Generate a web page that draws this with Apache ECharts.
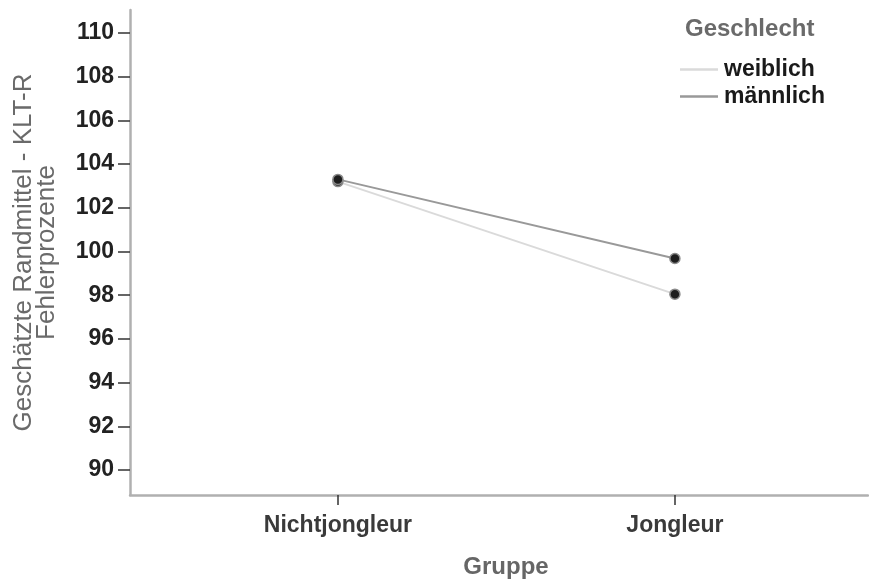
<!DOCTYPE html>
<html>
<head>
<meta charset="utf-8">
<script src="https://cdn.jsdelivr.net/npm/echarts@6/dist/echarts.min.js"></script>
<style>
  html, body { margin: 0; padding: 0; background: #fff; }
  #chart { width: 869px; height: 580px; }
</style>
</head>
<body>
<div id="chart"></div>
<script>
// Estimated marginal means of KLT-R error percentages by group and sex
const groups = ['Nichtjongleur', 'Jongleur'];
const weiblich = [103.2, 98.05];
const maennlich = [103.3, 99.68];
const yTicks = [90, 92, 94, 96, 98, 100, 102, 104, 106, 108, 110];

const FONT = 'Liberation Sans, Arial, sans-serif';

const toPoints = vals => vals.map((v, i) => [i, v]);

const chart = echarts.init(document.getElementById('chart'), null, { renderer: 'canvas' });

const markerStyle = { color: '#1e1e1e', borderColor: '#8a8a8a', borderWidth: 1.5 };

chart.setOption({
  animation: false,
  backgroundColor: '#ffffff',
  textStyle: { fontFamily: FONT },
  grid: { left: 130, top: 10, right: 1, bottom: 85, containLabel: false, outerBoundsMode: 'none' },
  xAxis: {
    type: 'value',
    min: -0.617,
    max: 1.573,
    name: 'Gruppe',
    nameLocation: 'middle',
    nameGap: 60,
    nameTextStyle: { color: '#666', fontSize: 24, fontWeight: 'bold', fontFamily: FONT, padding: [0, 0, 0, 14] },
    axisLine: { show: true, onZero: false, lineStyle: { color: '#b0b0b0', width: 2.5 } },
    axisTick: { show: true, customValues: [0, 1], length: 10, lineStyle: { color: '#333', width: 1.5 } },
    axisLabel: {
      customValues: [0, 1],
      formatter: v => groups[Math.round(v)],
      color: '#3a3a3a', fontSize: 23, fontWeight: 'bold', margin: 19, fontFamily: FONT
    },
    splitLine: { show: false }
  },
  yAxis: {
    type: 'value',
    min: 88.86,
    max: 111.05,
    name: 'Geschätzte Randmittel - KLT-R\nFehlerprozente',
    nameLocation: 'middle',
    nameRotate: 90,
    nameGap: 72,
    nameTextStyle: { color: '#6a6a6a', fontSize: 26, lineHeight: 23, fontFamily: FONT },
    axisLine: { show: true, onZero: false, lineStyle: { color: '#b0b0b0', width: 2.5 } },
    axisTick: { show: true, customValues: yTicks, length: 12, lineStyle: { color: '#333', width: 1.5 } },
    axisLabel: {
      customValues: yTicks,
      color: '#222', fontSize: 23, fontWeight: 'bold', margin: 16, fontFamily: FONT
    },
    splitLine: { show: false }
  },
  legend: {
    orient: 'vertical',
    left: 680,
    top: 58,
    padding: 0,
    itemWidth: 38,
    itemHeight: 2.5,
    itemGap: 4,
    textStyle: { color: '#1a1a1a', fontSize: 23, fontWeight: 'bold', fontFamily: FONT, padding: [0, 0, 0, 1] },
    data: [
      { name: 'weiblich', icon: 'rect', itemStyle: { color: '#dadada', borderWidth: 0 } },
      { name: 'männlich', icon: 'rect', itemStyle: { color: '#999999', borderWidth: 0 } }
    ]
  },
  graphic: [{
    type: 'text',
    left: 685,
    top: 17,
    style: { text: 'Geschlecht', fill: '#6a6a6a', font: 'bold 24px ' + FONT }
  }],
  series: [
    {
      name: 'weiblich',
      type: 'line',
      data: toPoints(weiblich),
      symbol: 'circle',
      symbolSize: 10,
      lineStyle: { color: '#dadada', width: 2 },
      itemStyle: markerStyle,
      z: 2
    },
    {
      name: 'männlich',
      type: 'line',
      data: toPoints(maennlich),
      symbol: 'circle',
      symbolSize: 10,
      lineStyle: { color: '#999999', width: 2 },
      itemStyle: markerStyle,
      z: 3
    }
  ]
});
</script>
</body>
</html>
